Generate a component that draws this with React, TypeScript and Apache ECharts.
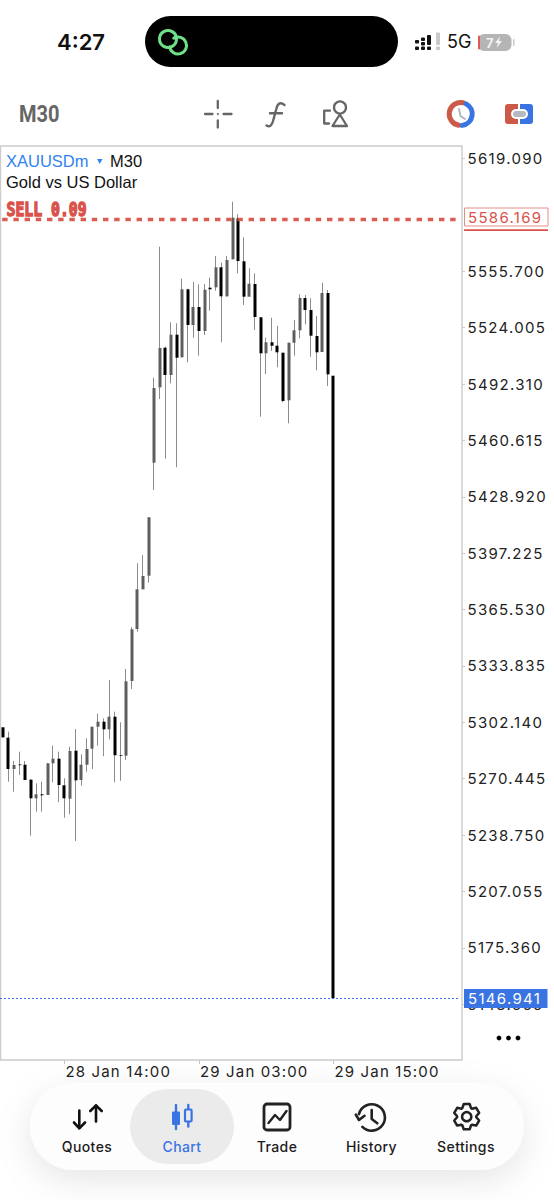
import React, { useEffect, useRef } from "react";
import * as echarts from "echarts";

// ---- data ----
const opens = [5299.32,5293.49,5275.89,5278.41,5278.29,5269.86,5259.41,5261.65,5261.26,5279.09,5281.67,5266.71,5259.18,5286.16,5269.69,5278.29,5287.29,5299.66,5302.47,5298.19,5305.28,5283.75,5283.36,5325.35,5354.59,5376.9,5384.55,5448.07,5490.46,5512.73,5497.38,5520.03,5507.33,5545.56,5525.49,5535.61,5522.11,5546.46,5546.68,5557.93,5541.62,5562.42,5585.47,5561.3,5541.4,5548.54,5529.82,5509.58,5515.76,5513.85,5509.91,5483.15,5515.54,5522.51,5540.67,5533.92,5519.3,5510.31,5543.48,5496.99];
const closes = [5293.7,5275.89,5278.13,5278.02,5269.69,5259.41,5261.65,5261.09,5279.09,5281.67,5266.88,5259.41,5286.0,5269.52,5278.29,5287.12,5299.66,5302.47,5298.19,5305.28,5283.58,5283.36,5325.18,5354.41,5376.9,5384.38,5417.38,5490.07,5512.56,5497.38,5520.03,5507.1,5545.56,5525.49,5535.61,5522.11,5545.33,5545.56,5557.93,5541.62,5562.03,5585.81,5561.47,5541.4,5548.71,5529.98,5509.58,5515.76,5513.85,5510.14,5482.76,5515.54,5522.51,5540.67,5533.92,5519.47,5510.14,5543.48,5497.77,5146.941];
const lows = [5293.49,5268.74,5263.12,5272.51,5269.69,5238.38,5251.87,5251.87,5261.26,5268.4,5257.16,5248.5,5250.41,5235.4,5266.49,5274.36,5275.89,5288.98,5283.02,5292.58,5268.4,5269.3,5280.94,5320.85,5353.06,5376.9,5380.61,5432.73,5483.89,5450.32,5492.71,5445.49,5507.33,5504.52,5518.35,5508.23,5519.87,5533.53,5544.77,5515.76,5541.4,5562.42,5554.55,5536.73,5541.4,5522.68,5473.94,5497.94,5510.87,5501.71,5482.03,5470.22,5508.23,5518.01,5525.88,5507.67,5500.02,5510.31,5491.19,5146.941];
const highs = [5299.32,5296.85,5280.39,5285.6,5280.39,5270.26,5267.84,5268.74,5279.09,5288.98,5285.6,5270.65,5288.41,5298.37,5284.14,5293.14,5299.66,5306.97,5304.38,5325.91,5308.09,5302.13,5332.1,5355.54,5391.52,5396.19,5417.38,5495.86,5569.51,5513.29,5527.0,5526.44,5551.52,5545.89,5549.83,5548.37,5548.54,5552.08,5564.28,5560.51,5564.28,5594.8,5587.72,5574.79,5557.36,5554.55,5529.82,5518.35,5529.59,5525.09,5509.91,5515.54,5528.3,5542.75,5542.35,5540.5,5530.55,5549.27,5545.16,5496.99];
const timeTicks: [number, string][] = [[11, "28 Jan 14:00"], [35, "29 Jan 03:00"], [59, "29 Jan 15:00"]];
const priceTicks = [5619.09,5555.7,5524.005,5492.31,5460.615,5428.92,5397.225,5365.53,5333.835,5302.14,5270.445,5238.75,5207.055,5175.36,5143.665];
const sellPrice = 5586.169;
const sellLineLevel = 5585.08;
const currentPrice = 5146.941;
const navItems: [string, number][] = [["Quotes", 87], ["Chart", 182], ["Trade", 277], ["History", 371.5], ["Settings", 466]];

const BAND_COUNT = 82;
const categories = Array.from({ length: BAND_COUNT }, (_, i) => {
  const t = timeTicks.find((k) => k[0] === i);
  return t ? t[1] : "";
});

const RED = "#d9534a";
const BLUE = "#3a74e2";
const ICON = "#666666";
const UI = "Inter, 'Liberation Sans', sans-serif";
const deg = (d: number) => (d * Math.PI) / 180;

echarts.graphic.registerShape("fIcon", echarts.graphic.extendPath("M284.5 105 C280 101.5 277.5 103.5 276.3 109 L273.2 120.5 C271.8 126 269.5 127.5 266.5 125.5 M270 113.3 L282 113.3", {}));

const gearPoints = (cx: number, cy: number) => {
  const pts: number[][] = [];
  for (let k = 0; k < 6; k++) {
    const a = deg(-90 + k * 60);
    [[-27, 9.6], [-13, 13], [13, 13], [27, 9.6]].forEach(([d, r]) => {
      pts.push([cx + r * Math.cos(a + deg(d)), cy + r * Math.sin(a + deg(d))]);
    });
  }
  return pts;
};

const line = (x1: number, y1: number, x2: number, y2: number, stroke: string, lineWidth: number) => ({
  type: "line", shape: { x1, y1, x2, y2 }, style: { stroke, lineWidth, lineCap: "round" }, z: 100, silent: true,
});
const rect = (x: number, y: number, width: number, height: number, fill: string, r: any = 0, extra: any = {}) => ({
  type: "rect", shape: { x, y, width, height, r }, style: { fill, ...extra }, z: 100, silent: true,
});
const text = (x: number, y: number, t: string, font: string, fill: string, align = "left", extra: any = {}) => ({
  type: "text", x, y, style: { text: t, font, fill, align, verticalAlign: "middle", ...extra }, z: 101, silent: true,
});
const poly = (points: number[][], stroke: string, lineWidth: number) => ({
  type: "polyline", shape: { points }, style: { stroke, lineWidth, fill: "none", lineCap: "round", lineJoin: "round" }, z: 102, silent: true,
});
const arc = (cx: number, cy: number, r: number, a: number, b: number, stroke: string, lineWidth: number) => ({
  type: "arc", shape: { cx, cy, r, startAngle: deg(a), endAngle: deg(b), clockwise: true }, style: { stroke, lineWidth, fill: "none", lineCap: "round" }, z: 102, silent: true,
});

const statusBar = [
  text(57, 41.5, "4:27", `600 22px ${UI}`, "#111"),
  rect(145, 16, 253, 51, "#000", 25.5),
  { type: "circle", shape: { cx: 168, cy: 39, r: 8.5 }, style: { fill: "none", stroke: "#6fe08a", lineWidth: 3 }, z: 102, silent: true },
  arc(178, 45.5, 8.5, -120, 170, "#6fe08a", 3),
  rect(415, 40, 4, 3.5, "#111", 1), rect(415, 46.5, 4, 3.5, "#111", 1),
  rect(421, 37.5, 4, 3.5, "#111", 1), rect(421, 42, 4, 3.5, "#111", 1), rect(421, 46.5, 4, 3.5, "#111", 1),
  rect(427, 35, 4, 10, "#111", 1), rect(427, 46.5, 4, 3.5, "#111", 1),
  rect(436, 32.5, 4, 12.5, "#c9c9c9", 1), rect(436, 46.5, 4, 3.5, "#c9c9c9", 1),
  text(447, 41.5, "5G", `400 18px ${UI}`, "#111"),
  rect(478, 34, 33.5, 17, "#b5b5b5", 6),
  rect(478, 35.5, 2, 14, "#e2574f", 1),
  text(486, 42.5, "7", `700 13px ${UI}`, "#f2f2f2"),
  { type: "polygon", shape: { points: [[500, 36.5], [495, 43], [498, 43], [496.5, 48], [502, 41], [499, 41]] }, style: { fill: "#f2f2f2" }, z: 102, silent: true },
  rect(513, 39, 1.5, 7, "#c8c8c8", 1),
];

const toolbar = [
  { ...text(19, 114, "M30", `700 23px 'Liberation Sans Narrow', Roboto, sans-serif`, "#666"), scaleX: 0.87 },
  line(205, 114, 212.5, 114, ICON, 2.3), line(223.5, 114, 231.5, 114, ICON, 2.3),
  line(217.8, 101, 217.8, 108, ICON, 2.3), line(217.8, 120.5, 217.8, 127.5, ICON, 2.3),
  { type: "circle", shape: { cx: 217.8, cy: 114, r: 1 }, style: { fill: ICON }, z: 102, silent: true },
  { type: "fIcon", style: { fill: "none", stroke: ICON, lineWidth: 2.4, lineCap: "round" }, z: 102, silent: true },
  { type: "circle", shape: { cx: 340, cy: 107.5, r: 6 }, style: { fill: "none", stroke: ICON, lineWidth: 2.3 }, z: 102, silent: true },
  { type: "polygon", shape: { points: [[339.8, 114.5], [347, 126], [332.5, 126]] }, style: { fill: "none", stroke: ICON, lineWidth: 2.3, lineJoin: "round" }, z: 102, silent: true },
  poly([[330, 110.7], [324.2, 110.7], [324.2, 123.5], [329, 123.5]], ICON, 2.3),
  arc(460.7, 114, 11.5, 100, 282, "#cc5a48", 5),
  arc(460.7, 114, 11.5, -62, 82, BLUE, 5),
  poly([[459, 109], [460.5, 116], [465, 119]], "#aeb3ba", 1.8),
  rect(505, 104, 13, 20, "#cc5a48", [3, 0, 0, 3]),
  rect(520, 104, 13, 20, BLUE, [0, 3, 3, 0]),
  rect(511, 109, 17, 10, "#fff", 5),
  rect(513, 111, 13, 6, "#b6bac0", 3),
];

const chartHeader = [
  text(6, 161, "XAUUSDm", "16.5px 'Liberation Sans', sans-serif", "#3183f0"),
  { type: "polygon", shape: { points: [[97, 159], [102.5, 159], [99.7, 164]] }, style: { fill: "#3183f0" }, z: 102, silent: true },
  text(110, 161, "M30", "16.5px 'Liberation Sans', sans-serif", "#111"),
  text(6, 181.5, "Gold vs US Dollar", "16.5px 'Liberation Sans', sans-serif", "#111"),
  { ...text(6.5, 209, "SELL 0.09", "700 19px 'DejaVu Sans Mono', monospace", RED, "left", { stroke: RED, lineWidth: 1.4 }), scaleX: 0.78 },
];

const priceBoxes = [
  rect(464.5, 208, 83.5, 18, "#fff", 0, { stroke: "#e58d84", lineWidth: 1 }),
  text(468, 217.5, sellPrice.toFixed(3), `15px ${UI}`, RED),
  rect(464, 229.3, 84, 1.8, RED),
  rect(464, 989, 83.5, 19, BLUE),
  text(468, 998.5, currentPrice.toFixed(3), `15px ${UI}`, "#fff"),
  ...[499, 508.5, 518].map((cx) => ({ type: "circle", shape: { cx, cy: 1038, r: 2.4 }, style: { fill: "#000" }, z: 102, silent: true })),
];

const navBar = [
  rect(30, 1083, 494, 87, "#fdfdfd", 43.5, { shadowBlur: 34, shadowColor: "rgba(0,0,0,0.10)", shadowOffsetY: 10 }),
  rect(130, 1089, 104, 75, "#ebebeb", 37.5),
  // Quotes
  poly([[79.3, 1110.5], [79.3, 1128]], "#111", 2.6), poly([[74, 1122.5], [79.3, 1128.3], [85, 1122.5]], "#111", 2.6),
  poly([[96, 1105.5], [96, 1121.5]], "#111", 2.6), poly([[90.3, 1111], [96, 1105.3], [101.7, 1111]], "#111", 2.6),
  // Chart
  line(176, 1105, 176, 1129, BLUE, 2.4), rect(172, 1111.5, 8, 13.5, BLUE, 1),
  line(188.3, 1105, 188.3, 1109, BLUE, 2.4), line(188.3, 1122, 188.3, 1126.5, BLUE, 2.4),
  { type: "rect", shape: { x: 185, y: 1109.5, width: 6.6, height: 12, r: 1 }, style: { fill: "none", stroke: BLUE, lineWidth: 2.2 }, z: 102, silent: true },
  // Trade
  { type: "rect", shape: { x: 264, y: 1104, width: 26, height: 26, r: 3 }, style: { fill: "none", stroke: "#222", lineWidth: 2.8 }, z: 102, silent: true },
  poly([[268.5, 1123], [275, 1115], [280, 1120], [286.5, 1111]], "#222", 2.4),
  // History
  arc(371.7, 1117.5, 13.2, 195, 495, "#222", 2.6),
  poly([[355.8, 1114.5], [359, 1120], [364.5, 1115.8]], "#222", 2.6),
  poly([[371.7, 1110], [371.7, 1119], [377.3, 1123.3]], "#222", 2.6),
  // Settings
  { type: "polygon", shape: { points: gearPoints(466.7, 1116.7) }, style: { fill: "none", stroke: "#222", lineWidth: 2.5, lineJoin: "round" }, z: 102, silent: true },
  { type: "circle", shape: { cx: 466.7, cy: 1116.7, r: 4.6 }, style: { fill: "none", stroke: "#222", lineWidth: 2.5 }, z: 102, silent: true },
  ...navItems.map(([label, x]) => text(x, 1146.7, label, `500 14px ${UI}`, label === "Chart" ? BLUE : "#1c1c1c", "center")),
];

const applySpacing = (root: HTMLElement) => {
  root.querySelectorAll("text").forEach((el) => {
    const s = (el as SVGTextElement).textContent || "";
    if (/^\d{4}\.\d{3}$/.test(s)) (el as any).style.letterSpacing = "1.3px";
    else if (/\d\d Jan/.test(s)) (el as any).style.letterSpacing = "1.15px";
    else if (navItems.some((n) => n[0] === s)) (el as any).style.letterSpacing = "0.4px";
  });
};

export default function App() {
  const ref = useRef<HTMLDivElement>(null);
  useEffect(() => {
    const el = ref.current!;
    const chart = echarts.init(el, undefined, { renderer: "svg" });
    const tickIdx = (i: number) => timeTicks.some((t) => t[0] === i);
    chart.setOption({
      animation: false,
      backgroundColor: "#ffffff",
      grid: { left: -1.81, top: 146, width: BAND_COUNT * 5.627, height: 914, containLabel: false },
      xAxis: {
        type: "category",
        data: categories,
        boundaryGap: true,
        axisLine: { show: false },
        axisTick: { show: true, alignWithLabel: true, interval: (i: number) => tickIdx(i), length: 4, lineStyle: { color: "#c8c8c8", width: 1 } },
        axisLabel: { show: true, interval: (i: number) => tickIdx(i), align: "left", margin: 4, padding: [0, 0, 0, 1], color: "#222", fontFamily: UI, fontSize: 15 },
        splitLine: { show: false },
      },
      yAxis: {
        type: "value",
        position: "right",
        offset: 2.4,
        min: 5112.28,
        max: 5626.12,
        axisLine: { show: false },
        axisTick: { show: true, length: 3, customValues: priceTicks, lineStyle: { color: "#c8c8c8", width: 1 } },
        axisLabel: { show: true, customValues: priceTicks, margin: 5.5, formatter: (v: number) => v.toFixed(3), color: "#222", fontFamily: UI, fontSize: 15 },
        splitLine: { show: false },
      },
      series: [
        {
          name: "Wicks",
          type: "candlestick",
          barWidth: 1,
          itemStyle: { color: "#8c8c8c", color0: "#8c8c8c", borderColor: "#8c8c8c", borderColor0: "#8c8c8c", borderWidth: 1 },
          data: opens.map((o, i) => [o, closes[i], lows[i], highs[i]]),
        },
        {
          name: "XAUUSDm",
          type: "candlestick",
          barWidth: 3.5,
          itemStyle: { color: "#5e5e5e", color0: "#000000", borderColor: "#5e5e5e", borderColor0: "#000000", borderWidth: 0 },
          data: opens.map((o, i) => [o, closes[i], Math.min(o, closes[i]), Math.max(o, closes[i])]),
          markLine: {
            silent: true,
            symbol: "none",
            animation: false,
            label: { show: false },
            data: [
              { yAxis: sellLineLevel, lineStyle: { color: RED, width: 3.4, type: [5.4, 5.8], dashOffset: 8.6, opacity: 0.95 } },
              { yAxis: currentPrice, lineStyle: { color: BLUE, width: 1, type: [2, 2] } },
            ],
          },
        },
      ],
      graphic: [
        { type: "rect", shape: { x: 0.5, y: 146, width: 461.5, height: 914 }, style: { fill: "none", stroke: "#cccccc", lineWidth: 1.4 }, z: 1, silent: true },
        ...statusBar,
        ...toolbar,
        ...chartHeader,
        ...priceBoxes,
        ...navBar,
      ],
    });
    applySpacing(el);
    chart.on("finished", () => applySpacing(el));
    return () => chart.dispose();
  }, []);
  return <div ref={ref} style={{ position: "absolute", left: 0, top: 0, width: 554, height: 1200 }} />;
}
